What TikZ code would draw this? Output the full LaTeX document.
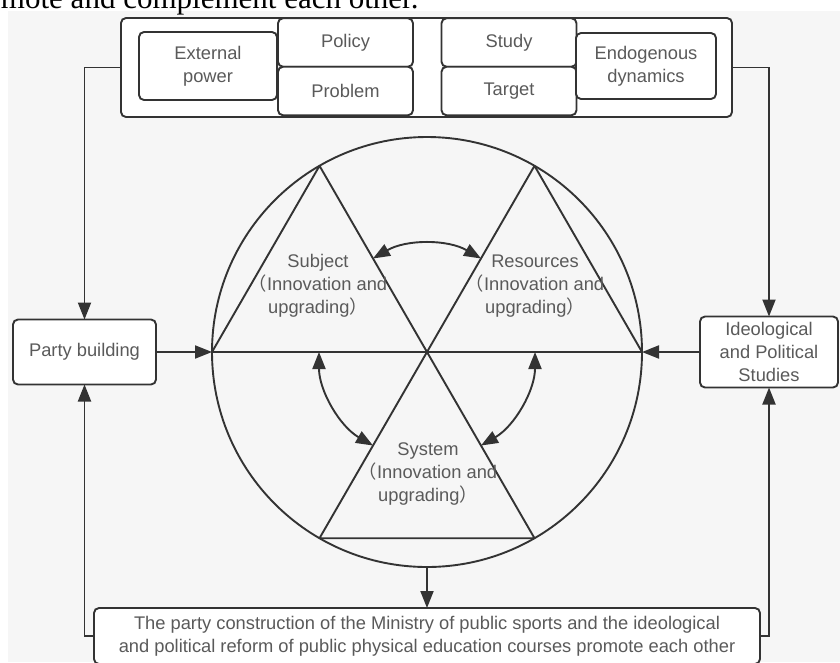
\documentclass[tikz,border=0pt]{standalone}
\usepackage{fontspec}
\setmainfont{Liberation Sans}
\newfontfamily\serifcut{Liberation Serif}
\newfontfamily\cjk{Noto Sans CJK SC}
\usetikzlibrary{arrows.meta}

\definecolor{linec}{HTML}{333333}
\definecolor{textc}{HTML}{5A5A5A}
\definecolor{bgc}{HTML}{F6F6F6}

\begin{document}
\begin{tikzpicture}[x=1pt,y=-1pt,color=linec,line width=1.9pt,>={Triangle[length=17pt,width=13pt]},
	every node/.style={font=\fontsize{18.3}{22.8}\selectfont,text=textc,align=center,inner sep=0pt,outer sep=0pt},
	box/.style={draw=linec,fill=white,rounded corners=5pt},
	cell/.style={box,minimum width=135pt,minimum height=48.5pt}]

	\clip (0,0) rectangle (840,662);
	\fill [bgc] (8,11) rectangle (840,662);
	\node [anchor=base west,font=\serifcut\fontsize{31}{31}\selectfont,text=black] at (1,8) (cut) {mote and complement each other.};

	% top frame
	\node [box,minimum width=611pt,minimum height=99pt]		at (426.5,67.5)	(frame)	{};
	\node [box,minimum width=138pt,minimum height=68pt]		at (208,66)		(ext)	{External\\power};
	\node [cell]											at (345.5,42.5)	(pol)	{Policy};
	\node [cell]											at (345.5,91)	(prob)	{Problem};
	\node [cell]											at (509,42.5)	(stud)	{Study};
	\node [cell]											at (509,91)		(targ)	{Target};
	\node [box,minimum width=140pt,minimum height=66pt]		at (646,66)		(endo)	{Endogenous\\dynamics};

	% side boxes
	\node [box,minimum width=143pt,minimum height=65pt]		at (84.5,352)	(party)	{Party building};
	\node [box,minimum width=138pt,minimum height=71pt]		at (769,352)	(ideo)	{Ideological\\and Political\\Studies};
	\node [box,minimum width=666pt,minimum height=56pt]		at (427,636)	(base)	{The party construction of the Ministry of public sports and the ideological\\and political reform of public physical education courses promote each other};

	% wheel
	\node [draw=linec,circle,minimum size=430pt]			at (427,352)	(wheel)	{};
	\draw (wheel.180) -- (wheel.0)  (wheel.120) -- (wheel.300)  (wheel.60) -- (wheel.240)
		  (wheel.180) -- (wheel.120)  (wheel.60) -- (wheel.0)  (wheel.240) -- (wheel.300);

	\node at (318,286) (subj)	{Subject\\{\cjk （}Innovation and\\upgrading{\cjk ）}};
	\node at (535,286) (res)	{Resources\\{\cjk （}Innovation and\\upgrading{\cjk ）}};
	\node at (428,474) (sys)	{System\\{\cjk （}Innovation and\\upgrading{\cjk ）}};

	\draw [<->] ([shift={(120:108pt)}]wheel.center) arc [start angle=120,end angle=60,radius=108pt];
	\draw [<->] ([shift={(180:108pt)}]wheel.center) arc [start angle=180,end angle=240,radius=108pt];
	\draw [<->] ([shift={(300:108pt)}]wheel.center) arc [start angle=300,end angle=360,radius=108pt];

	% connectors
	\draw [->] (frame.west) -| (party);
	\draw [->] (frame.east) -| (ideo);
	\draw [->] (base.west) -| (party);
	\draw [->] (base.east) -| (ideo);
	\draw [->] (party) -- (wheel.180);
	\draw [->] (ideo) -- (wheel.0);
	\draw [->] (wheel.south) -- (base);

\end{tikzpicture}
\end{document}
